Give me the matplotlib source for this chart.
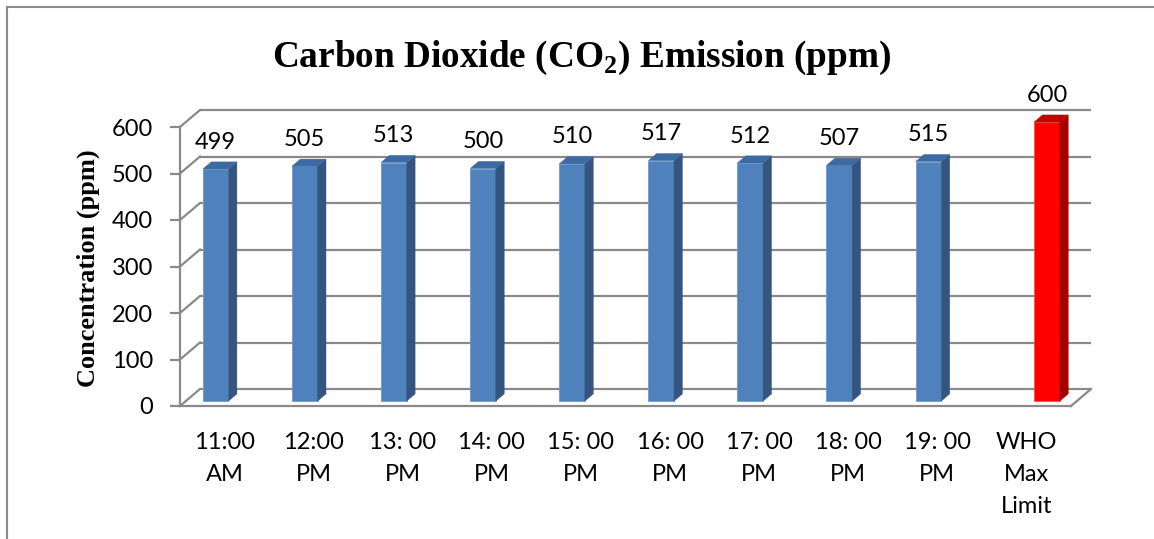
import matplotlib
matplotlib.use("Agg")
import matplotlib.pyplot as plt
from matplotlib.patches import Polygon
from matplotlib.lines import Line2D

# ---- data ----
categories = ["11:00\nAM", "12:00\nPM", "13: 00\nPM", "14: 00\nPM", "15: 00\nPM",
              "16: 00\nPM", "17: 00\nPM", "18: 00\nPM", "19: 00\nPM", "WHO\nMax\nLimit"]
measured = [499, 505, 513, 500, 510, 517, 512, 507, 515]
who_limit = [600]
y_ticks = [0, 100, 200, 300, 400, 500, 600]

plt.rcParams["font.family"] = ["Lato", "DejaVu Sans"]
plt.rcParams["mathtext.fontset"] = "custom"
plt.rcParams["mathtext.rm"] = "Liberation Serif"
plt.rcParams["mathtext.bf"] = "Liberation Serif:bold"

W, H, DPI = 1154, 539, 100
fig = plt.figure(figsize=(W / DPI, H / DPI), dpi=DPI)

# front plane of the plot area (pixels)
px_left, px_right = 180, 1071
px_bottom, px_top = 406, 127
ax = fig.add_axes([px_left / W, 1 - px_bottom / H,
                   (px_right - px_left) / W, (px_bottom - px_top) / H])
ax.set_xlim(-0.5, 9.5)
ax.set_ylim(0, 600)
ax.patch.set_visible(False)

px_per_cat = (px_right - px_left) / 10.0
px_per_ppm = (px_bottom - px_top) / 600.0
DX = 20 / px_per_cat          # depth offset, category units
DY = 17 / px_per_ppm          # depth offset, ppm units

GRID = "#898989"
LABEL_SIZE = 17

# back wall gridlines and left side wall
for v in y_ticks:
    ax.plot([-0.5 + DX, 9.5 + DX], [v + DY, v + DY], color=GRID, lw=1.6,
            clip_on=False, zorder=1, solid_capstyle="butt")
    ax.plot([-0.5, -0.5 + DX], [v, v + DY], color=GRID, lw=1.6,
            clip_on=False, zorder=1)
# floor right edge
ax.plot([9.5, 9.5 + DX], [0, DY], color=GRID, lw=1.6, clip_on=False, zorder=1)

# axes
for s in ["top", "right"]:
    ax.spines[s].set_visible(False)
for s in ["left", "bottom"]:
    ax.spines[s].set_color(GRID)
    ax.spines[s].set_linewidth(1.6)
ax.set_yticks(y_ticks)
ax.tick_params(axis="y", direction="out", length=7.2, width=1.6, color=GRID,
               pad=12, labelsize=LABEL_SIZE)
ax.set_xticks(range(len(categories)))
ax.set_xticklabels(categories, linespacing=1.64)
ax.tick_params(axis="x", length=0, pad=19, labelsize=LABEL_SIZE)

# 3D-style bars
BAR_W = 25.7 / px_per_cat
F0, F1 = 0.29, 0.71
OFFSET = 0.165


def draw_bar(cat, value, shift, front, side, top, edge):
    xl = cat + shift - BAR_W / 2
    xr = xl + BAR_W
    fx, fy = F0 * DX, F0 * DY
    bx, by = F1 * DX, F1 * DY
    ax.add_patch(Polygon([(xl + fx, fy), (xr + fx, fy), (xr + fx, value + fy),
                          (xl + fx, value + fy)], closed=True, facecolor=front,
                         edgecolor=edge, lw=0.6, zorder=3, clip_on=False))
    ax.add_patch(Polygon([(xr + fx, fy), (xr + bx, by), (xr + bx, value + by),
                          (xr + fx, value + fy)], closed=True, facecolor=side,
                         edgecolor=side, lw=0.3, zorder=3, clip_on=False))
    ax.add_patch(Polygon([(xl + fx, value + fy), (xr + fx, value + fy),
                          (xr + bx, value + by), (xl + bx, value + by)],
                         closed=True, facecolor=top, edgecolor=top, lw=0.3,
                         zorder=3, clip_on=False))
    ax.text((xl + xr) / 2 + fx, value + fy + 58, f"{value}", ha="center",
            va="center", fontsize=LABEL_SIZE, color="black", zorder=4)


for i, v in enumerate(measured):
    draw_bar(i, v, -OFFSET, "#4F81BD", "#34557F", "#3D6AA2", "#6F9BD0")
for j, v in enumerate(who_limit):
    draw_bar(len(measured) + j, v, OFFSET, "#FF0000", "#A50000", "#C40000", "#FF5050")

# titles
fig.text(582 / W, 1 - 67 / H, r"Carbon Dioxide (CO$_{\mathbf{2}}$) Emission (ppm)",
         ha="center", va="baseline", fontsize=26.8, fontweight="bold",
         family="Liberation Serif")
fig.text(88 / W, 1 - 268 / H, "Concentration (ppm)", rotation=90,
         ha="center", va="center", fontsize=19, fontweight="bold",
         family="Liberation Serif")

# chart frame
fig.add_artist(Line2D([7 / W, 1], [1 - 7 / H, 1 - 7 / H], color="#8C8C8C", lw=1.5))
fig.add_artist(Line2D([7 / W, 7 / W], [0, 1 - 7 / H], color="#8C8C8C", lw=1.5))

fig.savefig("out.png", dpi=DPI)
